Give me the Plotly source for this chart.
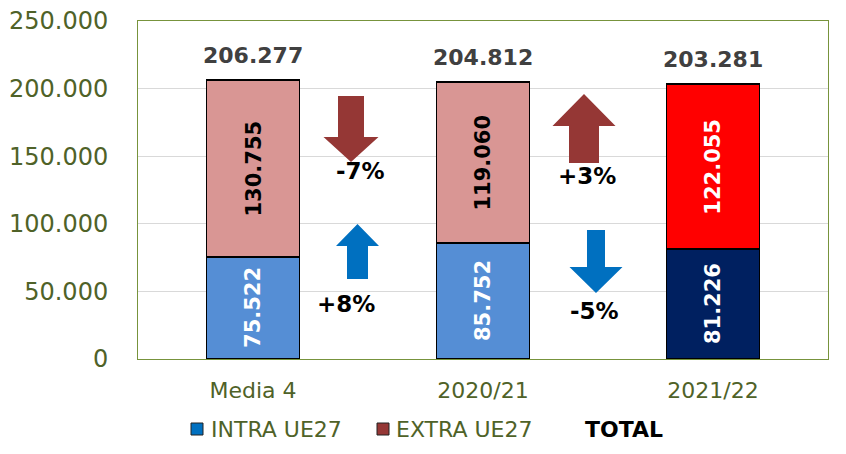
import plotly.graph_objects as go

# ---- data ----
categories = ["Media 4", "2020/21", "2021/22"]
intra_ue27 = [75522, 85752, 81226]
extra_ue27 = [130755, 119060, 122055]
totals = [206277, 204812, 203281]
y_ticks = [0, 50000, 100000, 150000, 200000, 250000]
# change labels shown between bars (2021/22 vs Media 4, 2021/22 vs 2020/21)
intra_change = ["+8%", "-5%"]
extra_change = ["-7%", "+3%"]

# ---- style ----
intra_colors = ["#558ED5", "#558ED5", "#002060"]
extra_colors = ["#D99694", "#D99694", "#FF0000"]
extra_text_colors = ["black", "black", "white"]
olive = "#4F6228"
frame = "#77933C"
FONT = "DejaVu Sans"

OFF = 8                      # default page body margin
W, H = 846 - 2 * OFF, 454 - 2 * OFF
L, R, T, B = 138, 828, 21, 359  # plot area in screen px


def px(x):
    return (x - L) / (R - L)


def py(y):
    return (B - y) / (B - T)


def fmt(v):
    return f"{v:,}".replace(",", ".")


fig = go.Figure()
fig.add_trace(go.Bar(
    x=categories, y=intra_ue27, name="INTRA UE27", width=0.405,
    marker=dict(color=intra_colors, line=dict(color="black", width=1.5)),
    showlegend=False, hoverinfo="x+y"))
fig.add_trace(go.Bar(
    x=categories, y=extra_ue27, name="EXTRA UE27", width=0.405,
    marker=dict(color=extra_colors, line=dict(color="black", width=1.5)),
    showlegend=False, hoverinfo="x+y"))

annotations = []
for i, c in enumerate(categories):
    annotations.append(dict(
        x=c, y=intra_ue27[i] / 2, xref="x", yref="y", text=fmt(intra_ue27[i]),
        textangle=-90, showarrow=False,
        font=dict(family=FONT, size=21, color="white", weight="bold")))
    annotations.append(dict(
        x=c, y=intra_ue27[i] + extra_ue27[i] / 2, xref="x", yref="y",
        text=fmt(extra_ue27[i]), textangle=-90, showarrow=False,
        font=dict(family=FONT, size=21, color=extra_text_colors[i], weight="bold")))
    annotations.append(dict(
        x=c, y=totals[i], xref="x", yref="y", text=fmt(totals[i]),
        yshift=25, showarrow=False,
        font=dict(family=FONT, size=22, color="#404040", weight="bold")))

shapes = []


def arrow(cx, y_tail, y_tip, shaft_w, head_w, head_len, color):
    d = 1 if y_tip > y_tail else -1  # pixel direction
    hb = y_tip - d * head_len
    pts = [(cx - shaft_w / 2, y_tail), (cx - shaft_w / 2, hb), (cx - head_w / 2, hb),
           (cx, y_tip), (cx + head_w / 2, hb), (cx + shaft_w / 2, hb),
           (cx + shaft_w / 2, y_tail)]
    path = "M " + " L ".join(f"{px(a):.5f},{py(b):.5f}" for a, b in pts) + " Z"
    shapes.append(dict(type="path", path=path, xref="paper", yref="paper",
                       fillcolor=color, line=dict(width=0)))


# left gap: extra down, intra up ; right gap: extra up, intra down
arrow(351, 96, 162, 26, 55, 25, "#953735")
arrow(357.5, 279, 224, 21, 43, 22, "#0070C0")
arrow(584, 163, 94, 30, 63, 32, "#953735")
arrow(596, 230, 293, 18, 53, 26, "#0070C0")

for txt, (x, y) in zip([extra_change[0], intra_change[0], extra_change[1], intra_change[1]],
                       [(360, 171), (346, 304), (587, 176), (594, 311)]):
    annotations.append(dict(x=px(x), y=py(y), xref="paper", yref="paper", text=txt,
                            xanchor="center", yanchor="middle", showarrow=False,
                            font=dict(family=FONT, size=23, color="black", weight="bold")))

# legend (manual)
ly = 429
shapes.append(dict(type="rect", xref="paper", yref="paper", x0=px(191), x1=px(203),
                   y0=py(ly + 6), y1=py(ly - 6), fillcolor="#0070C0",
                   line=dict(color="#222", width=1)))
shapes.append(dict(type="rect", xref="paper", yref="paper", x0=px(377), x1=px(389),
                   y0=py(ly + 6), y1=py(ly - 6), fillcolor="#953735",
                   line=dict(color="#222", width=1)))
for txt, x, col, wt in [("INTRA UE27", 209, olive, "normal"),
                        ("EXTRA UE27", 394, olive, "normal"),
                        ("TOTAL", 583, "black", "bold")]:
    annotations.append(dict(x=px(x), y=py(ly), xref="paper", yref="paper", text=txt,
                            xanchor="left", yanchor="middle", showarrow=False,
                            font=dict(family=FONT, size=22, color=col, weight=wt)))

fig.update_layout(
    width=W, height=H, barmode="stack", autosize=False,
    margin=dict(l=L - OFF, r=W - (R - OFF), t=T - OFF, b=H - (B - OFF), pad=0,
                autoexpand=False),
    paper_bgcolor="white", plot_bgcolor="white",
    separators=",.",
    font=dict(family=FONT, color=olive),
    annotations=annotations, shapes=shapes,
    xaxis=dict(showgrid=False, showline=True, linecolor=frame, linewidth=1, mirror=True,
               automargin=False,
               ticks="", tickfont=dict(size=22, color=olive), ticklabelstandoff=12),
    yaxis=dict(range=[0, 250000], tickvals=y_ticks, tickformat=",d", automargin=False,
               ticklabeloverflow="allow",
               showgrid=True, gridcolor="#D9D9D9", gridwidth=1,
               showline=True, linecolor=frame, linewidth=1, mirror=True,
               zeroline=False, ticks="", tickfont=dict(size=24, color=olive),
               ticklabelstandoff=24),
)

fig.write_html("out.html")
